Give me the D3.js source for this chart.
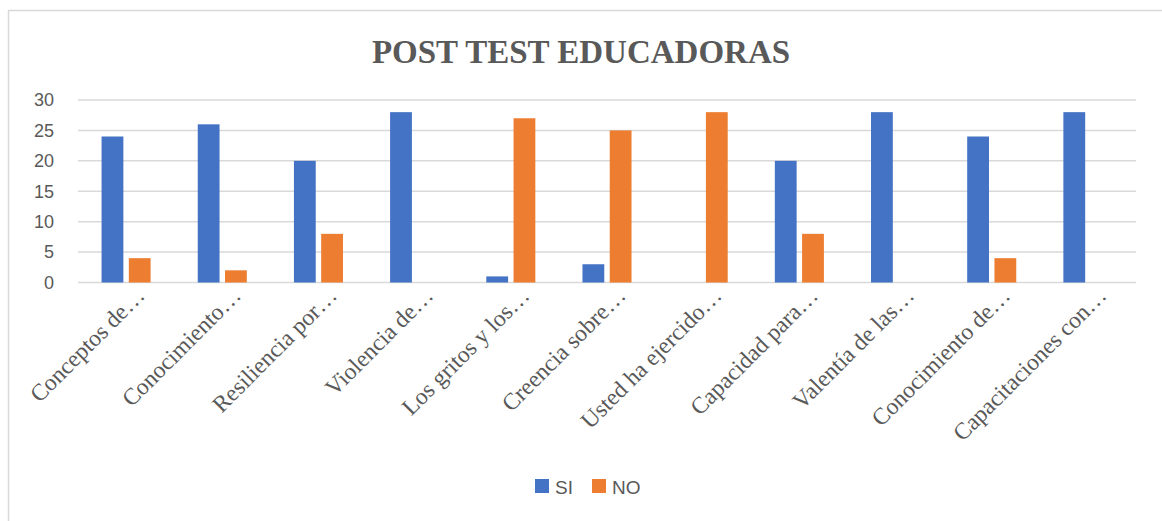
<!DOCTYPE html>
<html>
<head>
<meta charset="utf-8">
<script src="https://cdn.jsdelivr.net/npm/d3@7"></script>
<style>
  body { margin: 0; background: #fff; }
  svg { display: block; }
</style>
</head>
<body>
<svg id="chart"></svg>
<script>
const categories = [
  "Conceptos de…", "Conocimiento…", "Resiliencia por…", "Violencia de…",
  "Los gritos y los…", "Creencia sobre…", "Usted ha ejercido…", "Capacidad para…",
  "Valentía de las…", "Conocimiento de…", "Capacitaciones con…"
];
const seriesNames = ["SI", "NO"];
const siValues = [24, 26, 20, 28, 1, 3, 0, 20, 28, 24, 28];
const noValues = [4, 2, 8, 0, 27, 25, 28, 8, 0, 4, 0];
const yTicks = [0, 5, 10, 15, 20, 25, 30];
const colors = ["#4472C4", "#ED7D31"];

const W = 1162, H = 521;
const plot = { left: 78, right: 1136, top: 100, bottom: 282.5 };

const svg = d3.select("#chart").attr("width", W).attr("height", H);

// chart frame (only top and left edges are visible in the crop)
svg.append("rect")
  .attr("x", 8.5).attr("y", 10.5)
  .attr("width", W + 20).attr("height", H + 20)
  .attr("fill", "none").attr("stroke", "#d9d9d9").attr("stroke-width", 1.5);

svg.append("text")
  .attr("x", 581).attr("y", 63)
  .attr("text-anchor", "middle")
  .style("font-family", "'Liberation Serif', 'Times New Roman', serif")
  .style("font-weight", "bold")
  .style("font-size", "33px")
  .style("fill", "#595959")
  .text("POST TEST EDUCADORAS");

const x0 = d3.scaleBand()
  .domain(categories)
  .range([plot.left, plot.right])
  .paddingInner(0.49)
  .paddingOuter(0.245);

const x1 = d3.scaleBand()
  .domain(seriesNames)
  .range([0, x0.bandwidth()])
  .paddingInner(0.2);

const y = d3.scaleLinear()
  .domain([0, 30])
  .range([plot.bottom, plot.top]);

// gridlines
svg.append("g")
  .selectAll("line")
  .data(yTicks)
  .enter()
  .append("line")
  .attr("x1", plot.left).attr("x2", plot.right)
  .attr("y1", d => y(d)).attr("y2", d => y(d))
  .attr("stroke", "#d9d9d9").attr("stroke-width", 1.5);

// y axis labels
const yAxis = svg.append("g")
  .attr("transform", `translate(${plot.left},0)`)
  .call(d3.axisLeft(y).tickValues(yTicks).tickSize(0).tickPadding(24));
yAxis.select(".domain").remove();
yAxis.selectAll("text")
  .style("font-family", "'Liberation Sans', Arial, sans-serif")
  .style("font-size", "18px")
  .style("fill", "#595959");

// bars
const rows = categories.map((c, i) => ({ cat: c, vals: [siValues[i], noValues[i]] }));
svg.append("g")
  .selectAll("g")
  .data(rows)
  .enter()
  .append("g")
  .attr("transform", d => `translate(${x0(d.cat)},0)`)
  .selectAll("rect")
  .data(d => d.vals.map((v, j) => ({ key: seriesNames[j], v, j })))
  .enter()
  .append("rect")
  .attr("x", d => x1(d.key))
  .attr("y", d => y(d.v))
  .attr("width", x1.bandwidth())
  .attr("height", d => y(0) - y(d.v))
  .attr("fill", d => colors[d.j]);

// x labels
svg.append("g")
  .selectAll("text")
  .data(categories)
  .enter()
  .append("text")
  .attr("transform", d => `translate(${x0(d) + x0.bandwidth() / 2 + 20},297) rotate(-45)`)
  .attr("text-anchor", "end")
  .style("font-family", "'Liberation Serif', 'Times New Roman', serif")
  .style("font-size", "23.5px")
  .style("fill", "#595959")
  .text(d => d);

// legend
const legendX = [535, 592];
const legend = svg.append("g")
  .selectAll("g")
  .data(seriesNames)
  .enter()
  .append("g")
  .attr("transform", (d, i) => `translate(${legendX[i]},479)`);
legend.append("rect")
  .attr("width", 14).attr("height", 14)
  .attr("fill", (d, i) => colors[i]);
legend.append("text")
  .attr("x", 20).attr("y", 14.5)
  .style("font-family", "'Liberation Sans', Arial, sans-serif")
  .style("font-size", "19px")
  .style("fill", "#595959")
  .text(d => d);
</script>
</body>
</html>
